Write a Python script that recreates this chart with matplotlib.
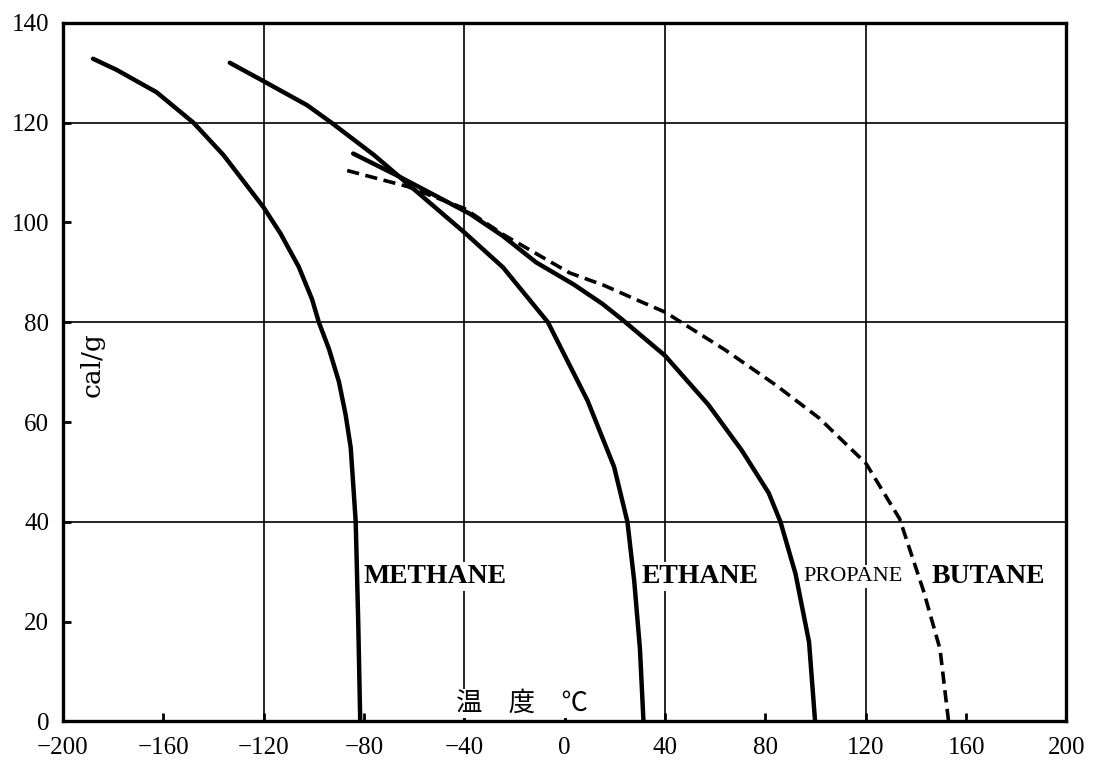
import matplotlib
matplotlib.use("Agg")
import matplotlib.pyplot as plt

# ---- data ----
methane_x = [-188, -178.7, -162.7, -148, -136, -120, -113.3, -106, -100.7, -98, -94, -90, -87.3, -85.3, -84.4, -83.3, -82.3, -81.5]
methane_y = [132.8, 130.6, 126.1, 120, 113.5, 103, 97.8, 91.1, 84.6, 80, 74.7, 68.1, 61.4, 54.9, 48.3, 40, 20, 0]

ethane_x = [-133.5, -120, -102.7, -93, -76, -66, -40, -24.6, -6.7, 9.1, 19.7, 25, 27.7, 30, 31.4]
ethane_y = [132, 128.3, 123.5, 120, 113.5, 109.2, 98, 91, 80, 64.3, 51, 40, 28.2, 14.5, 0]

propane_x = [-84.3, -66, -37.7, -24.7, -11.4, 3.5, 15, 23, 40, 57.2, 70.6, 81.3, 86, 92, 97.4, 99.8]
propane_y = [113.8, 109.2, 101.7, 97.3, 92.0, 87.6, 83.7, 80.5, 73.3, 63.5, 54.3, 45.8, 40, 29.6, 15.9, 0]

butane_x = [-86.7, -62.7, -40, -24.6, 1.9, 15.6, 28.2, 40.1, 63.8, 83.9, 101.4, 120.1, 133.5, 143, 149.6, 153]
butane_y = [110.4, 107.2, 102.8, 97.6, 89.9, 87.4, 84.6, 82, 74.5, 67.5, 60.8, 51.7, 40.6, 26.2, 14.5, 0]

x_ticks = [-200, -160, -120, -80, -40, 0, 40, 80, 120, 160, 200]
y_ticks = [0, 20, 40, 60, 80, 100, 120, 140]
x_grid = [-120, -40, 40, 120]
y_grid = [40, 80, 120]

labels = ["METHANE", "ETHANE", "PROPANE", "BUTANE"]
label_x = [-51.5, 54, 115, 169]
label_y = [29, 29, 29, 29]

plt.rcParams['font.family'] = ['Liberation Serif', 'DejaVu Serif']

fig = plt.figure(figsize=(11.04, 7.61), dpi=100)
ax = fig.add_axes([0.057, 0.052, 0.909, 0.918])
ax.set_xlim(-200, 200)
ax.set_ylim(0, 140)

for gx in x_grid:
    ax.axvline(gx, color='black', lw=1.2, zorder=1)
for gy in y_grid:
    ax.axhline(gy, color='black', lw=1.2, zorder=1)

lw = 3.2
ax.plot(methane_x, methane_y, color='black', lw=lw, solid_capstyle='round', solid_joinstyle='round', zorder=3)
ax.plot(ethane_x, ethane_y, color='black', lw=lw, solid_capstyle='round', solid_joinstyle='round', zorder=3)
ax.plot(propane_x, propane_y, color='black', lw=lw, solid_capstyle='round', solid_joinstyle='round', zorder=3)
ax.plot(butane_x, butane_y, color='black', lw=2.6, linestyle=(0, (3.4, 1.8)), zorder=3)

for name, lx, ly in zip(labels, label_x, label_y):
    if name == "PROPANE":
        ax.text(lx, ly, name, fontsize=16, ha='center', va='center', zorder=4,
                bbox=dict(facecolor='white', edgecolor='none', pad=1.5))
    else:
        ax.text(lx, ly, name, fontsize=20, fontweight='bold', ha='center', va='center', zorder=4,
                bbox=dict(facecolor='white', edgecolor='none', pad=1.5))

ax.text(-17, 3.6, "温\u3000度\u3000℃", fontsize=19, ha='center', va='center', zorder=4,
        family=['Noto Sans CJK JP', 'DejaVu Sans'],
        bbox=dict(facecolor='white', edgecolor='none', pad=1.0))
ax.text(-188.4, 71.6, "cal/g", fontsize=19, rotation=90, ha='center', va='center', zorder=4,
        family=['DejaVu Serif'])

ax.set_xticks(x_ticks)
ax.set_yticks(y_ticks)
ax.set_xticklabels([("\u2212" + str(-v)) if v < 0 else str(v) for v in x_ticks])
ax.tick_params(direction='in', length=6, width=2, labelsize=18)
ax.tick_params(axis='x', pad=11)
ax.tick_params(axis='y', pad=10)
for s in ax.spines.values():
    s.set_linewidth(2.4)

fig.savefig("out.png", dpi=100)
